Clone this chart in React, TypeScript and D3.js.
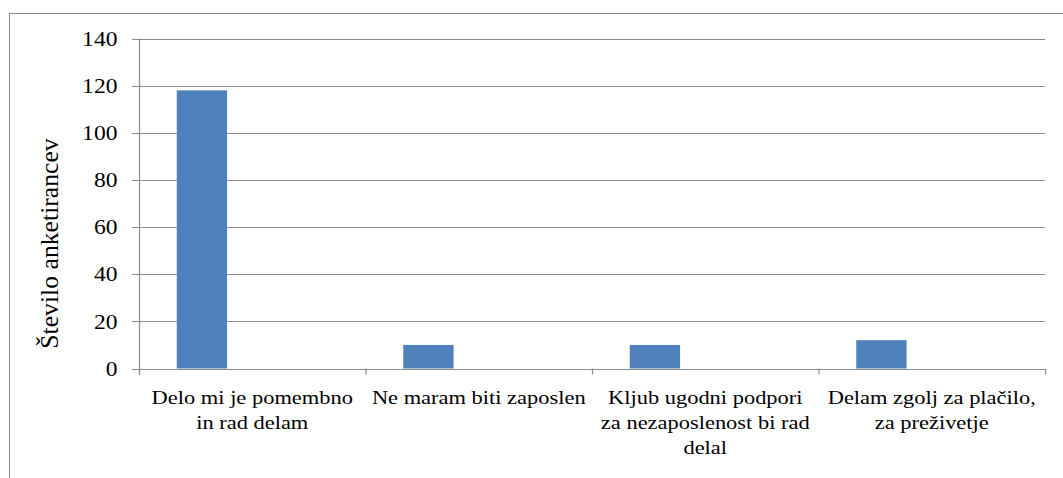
import React from "react";
import * as d3 from "d3";

const categories: string[][] = [
  ["Delo mi je pomembno", "in rad delam"],
  ["Ne maram biti zaposlen"],
  ["Kljub ugodni podpori", "za nezaposlenost bi rad", "delal"],
  ["Delam zgolj za plačilo,", "za preživetje"],
];
const values: number[] = [118, 10, 10, 12];
const seriesSlots: string[] = ["s1", "s2", "s3"];
const yTicks: number[] = [0, 20, 40, 60, 80, 100, 120, 140];
const yLabel = "Število anketirancev";

const W = 1063;
const H = 478;
const left = 139;
const right = 1045;
const top = 38.5;
const bottom = 368.5;
const FONT = "Liberation Serif";
const GRID = "#8c8c8c";
const SX = 1.146;

export default function App() {
  const keys = categories.map((_, i) => String(i));
  const x = d3.scaleBand<string>().domain(keys).range([left, right]).padding(0);
  const step = x.step();
  const inner = d3
    .scaleBand<string>()
    .domain(seriesSlots)
    .range([0, step])
    .paddingInner(0)
    .paddingOuter(0.75);
  const y = d3.scaleLinear().domain([0, 140]).range([bottom, top]);
  const boundaries = [...keys.map((k) => x(k) as number), right];
  const ts = { fontFamily: FONT };

  return (
    <svg
      width={W}
      height={H}
      style={{ position: "absolute", left: 0, top: 0, background: "#fff" }}
    >
      <rect x={0} y={0} width={W} height={H} fill="#fff" />
      <rect x={9.5} y={13.5} width={W + 10} height={H + 10} fill="none" stroke="#8a8a8a" strokeWidth={1} />
      {yTicks.map((t) => (
        <line key={"g" + t} x1={left - 7} x2={right} y1={Math.round(y(t)) + 0.5} y2={Math.round(y(t)) + 0.5} stroke={GRID} strokeWidth={1.2} />
      ))}
      <line x1={left + 0.5} x2={left + 0.5} y1={top} y2={bottom + 6} stroke={GRID} strokeWidth={1.2} />
      {boundaries.map((b, i) => (
        <line key={"xt" + i} x1={b + 0.5} x2={b + 0.5} y1={bottom} y2={bottom + 6} stroke={GRID} strokeWidth={1.2} />
      ))}
      {values.map((v, i) => (
        <rect
          key={"b" + i}
          x={(x(String(i)) as number) + (inner("s1") as number)}
          y={y(v)}
          width={inner.bandwidth()}
          height={y(0) - y(v)}
          fill="#4f81bd"
        />
      ))}
      {yTicks.map((t) => (
        <text
          key={"yl" + t}
          transform={`translate(117.5, ${y(t)}) scale(${SX}, 1)`}
          x={0}
          y={0}
          dy="0.35em"
          textAnchor="end"
          fontSize={20.6}
          fill="#000"
          style={ts}
        >
          {t}
        </text>
      ))}
      {categories.map((lines, i) => (
        <text
          key={"xl" + i}
          transform={`translate(${(x(String(i)) as number) + step / 2}, 404.3) scale(${SX}, 1)`}
          textAnchor="middle"
          fontSize={19.6}
          fill="#000"
          style={ts}
        >
          {lines.map((ln, j) => (
            <tspan key={j} x={0} y={j * 25}>
              {ln}
            </tspan>
          ))}
        </text>
      ))}
      <text transform={`translate(58, 243.5) rotate(-90)`} textAnchor="middle" fontSize={25.7} fill="#000" style={ts}>
        {yLabel}
      </text>
    </svg>
  );
}
